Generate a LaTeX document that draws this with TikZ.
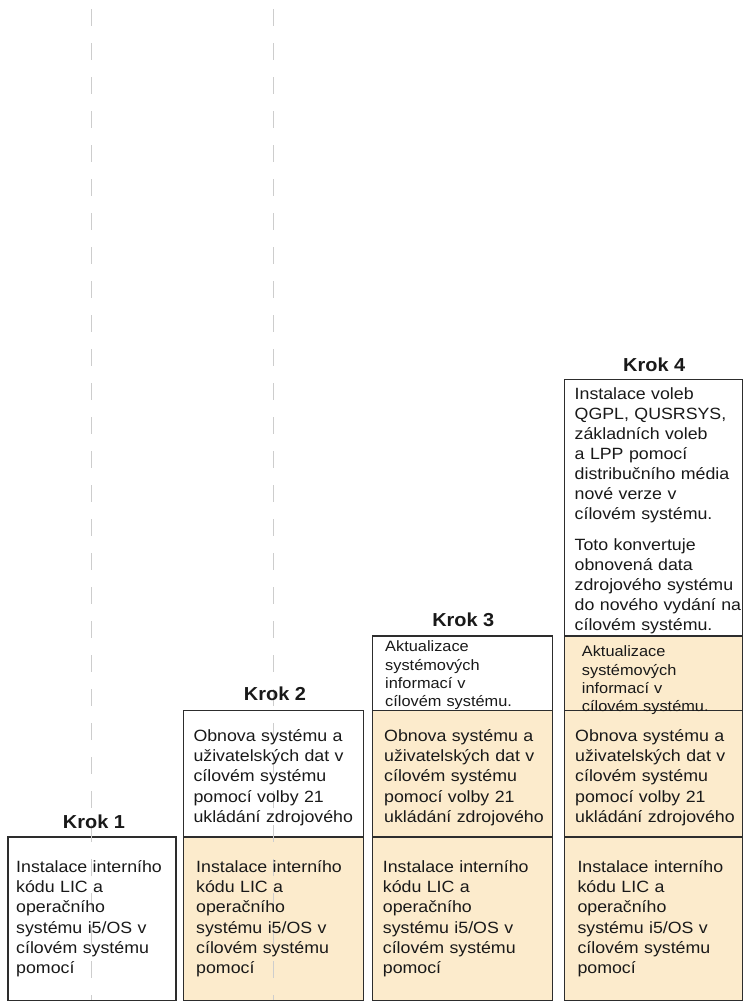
\documentclass[tikz,border=0pt]{standalone}
\usepackage{fontspec}
\setmainfont{Liberation Sans}
\newfontfamily\bodyfont{Liberation Sans}[FakeStretch=1.09]
\newfontfamily\headfont{Liberation Sans Bold}[FakeStretch=1.06]

\definecolor{stepfill}{RGB}{252,235,204}
\definecolor{edgegray}{RGB}{45,45,45}
\definecolor{guidegray}{RGB}{205,205,205}
\definecolor{ink}{RGB}{25,25,25}

\newcommand{\txtInstall}{Instalace interního\\kódu LIC a\\operačního\\systému i5/OS v\\cílovém systému\\pomocí}
\newcommand{\txtRestore}{Obnova systému a\\uživatelských dat v\\cílovém systému\\pomocí volby 21\\ukládání zdrojového}
\newcommand{\txtUpdate}{Aktualizace\\systémových\\informací v\\cílovém systému.}

\tikzset{
  panel/.style={draw=edgegray, line width=1.2pt},
  donepanel/.style={panel, fill=stepfill},
  newpanel/.style={panel, fill=white},
  guideline/.style={draw=guidegray, line width=1.3pt, dash pattern=on 16.7pt off 17.3pt},
  head/.style={font=\headfont\fontsize{18.8}{22}\selectfont, anchor=base, inner sep=0pt, text=ink},
  body/.style={font=\bodyfont\fontsize{16.3}{20.1}\selectfont, anchor=base west, inner sep=0pt,
               text width=200pt, align=left, text=ink},
  smallbody/.style={body, font=\bodyfont\fontsize{15}{18.3}\selectfont}
}

\begin{document}
\begin{tikzpicture}[x=1pt, y=-1pt]
  \useasboundingbox (0,0) rectangle (744,1002);

  % column 1
  \path[newpanel]  (8,837) rectangle (176,1000.3);
  % column 2
  \path[newpanel]  (183.7,710.5) rectangle (363.3,837);
  \path[donepanel] (183.7,837) rectangle (363.3,1000.3);
  % column 3
  \path[newpanel]  (372.7,636) rectangle (552.7,710.5);
  \path[donepanel] (372.7,710.5) rectangle (552.7,837);
  \path[donepanel] (372.7,837) rectangle (552.7,1000.3);
  % column 4
  \path[newpanel]  (564.3,379.3) rectangle (742.3,636);
  \path[donepanel] (564.3,636) rectangle (742.3,710.5);
  \path[donepanel] (564.3,710.5) rectangle (742.3,837);
  \path[donepanel] (564.3,837) rectangle (742.3,1000.3);

  % vertical guides
  \coordinate (guideAtop) at (91.5,9);
  \coordinate (guideAbot) at (91.5,1000);
  \coordinate (guideBtop) at (273.5,9);
  \coordinate (guideBbot) at (273.5,1000);
  \draw[guideline] (guideAtop) -- (guideAbot);
  \draw[guideline] (guideBtop) -- (guideBbot);

  % headings
  \node[head] (krok1) at (94,828.3) {Krok 1};
  \node[head] (krok2) at (275,700) {Krok 2};
  \node[head] (krok3) at (463.3,626) {Krok 3};
  \node[head] (krok4) at (654.2,371.7) {Krok 4};

  % step texts
  \node[body] (installA) at (16,872.7) {\txtInstall};
  \node[body] (installB) at (196,872.7) {\txtInstall};
  \node[body] (installC) at (382.7,872.7) {\txtInstall};
  \node[body] (installD) at (577.3,872.7) {\txtInstall};

  \node[body] (restoreB) at (193.3,741.7) {\txtRestore};
  \node[body] (restoreC) at (384,741.7) {\txtRestore};
  \node[body] (restoreD) at (575,741.7) {\txtRestore};

  \node[smallbody] (updateC) at (385,651.7) {\txtUpdate};
  \node[smallbody] (updateD) at (581.7,656.7) {\txtUpdate};

  \node[body] (optionsD) at (574.5,399) {Instalace voleb\\QGPL, QUSRSYS,\\základních voleb\\a LPP pomocí\\distribučního média\\nové verze v\\cílovém systému.};
  \node[body] (convertD) at (574.5,550) {Toto konvertuje\\obnovená data\\zdrojového systému\\do nového vydání na\\cílovém systému.};
\end{tikzpicture}
\end{document}
